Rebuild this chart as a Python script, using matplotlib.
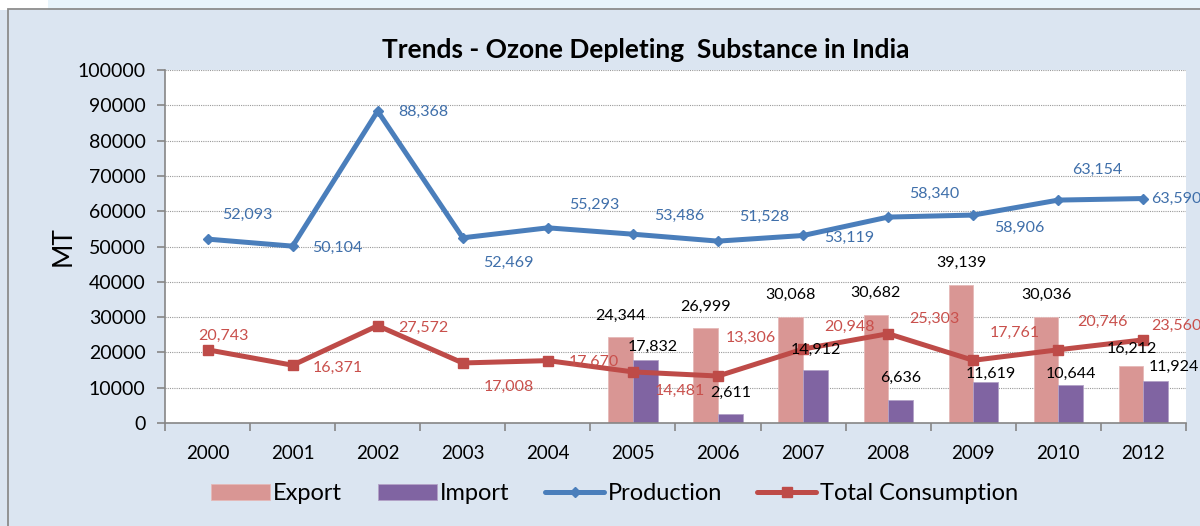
import matplotlib
import matplotlib.pyplot as plt
from matplotlib.patches import Rectangle

matplotlib.use("Agg")

plt.rcParams["font.family"] = ["Lato", "DejaVu Sans"]

# chart data
years = ["2000", "2001", "2002", "2003", "2004", "2005",
         "2006", "2007", "2008", "2009", "2010", "2012"]
production = [52093, 50104, 88368, 52469, 55293, 53486,
              51528, 53119, 58340, 58906, 63154, 63590]
consumption = [20743, 16371, 27572, 17008, 17670, 14481,
               13306, 20948, 25303, 17761, 20746, 23560]
# export / import only reported from 2005 onwards
bar_years = ["2005", "2006", "2007", "2008", "2009", "2010", "2012"]
export = [24344, 26999, 30068, 30682, 39139, 30036, 16212]
imports = [17832, 2611, 14912, 6636, 11619, 10644, 11924]

# label offsets in pixels (dx, dy) - Excel placed these by hand-ish
prod_off = [(40, 24), (45, -2), (46, -1), (46, -25), (46, 23), (46, 18),
            (46, 24), (46, -2), (46, 23), (46, -13), (39, 30), (8, 0)]
cons_off = [(16, 14), (45, -3), (46, -2), (46, -24), (46, -1), (47, -19),
            (33, 38), (46, 22), (46, 15), (41, 27), (44, 28), (8, 14)]
exp_off = [(0, 21), (0, 21), (0, 22), (0, 22), (0, 22), (0, 22), (1, 17)]
imp_off = [(7, 13), (0, 21), (0, 20), (0, 22), (5, 8), (0, 12), (18, 14)]

BG = "#DBE5F1"
BLUE = "#4A7EBB"
RED = "#BE4B48"
PINK = "#D99694"
PURPLE = "#8064A2"


def fmt(v):
    return f"{v:,}"


def create_plot():
    fig = plt.figure(figsize=(12, 5.26), dpi=100)
    fig.patch.set_facecolor(BG)

    # strip of the surrounding document at the very top
    fig.patches.append(Rectangle((0, 0.981), 1, 0.02, transform=fig.transFigure,
                                 facecolor="white", edgecolor="none", zorder=0))
    fig.patches.append(Rectangle((0.04, 0.981), 0.96, 0.02, transform=fig.transFigure,
                                 facecolor="#E8F4FB", edgecolor="none", zorder=0))
    fig.patches.append(Rectangle((0.0065, -0.01), 1.0, 0.992, transform=fig.transFigure,
                                 facecolor="none", edgecolor="#8C8C8C", lw=1.3, zorder=1))
    # tail of the paragraph text above the chart, cut off like in the source
    fig.text(0.083, 1.012, "2040.", fontsize=15, color="#222222", va="center")

    ax = fig.add_axes([0.1375, 0.1958, 0.8508, 0.6711])
    ax.set_facecolor("white")

    x = list(range(len(years)))
    bx = [years.index(y) for y in bar_years]
    w = 0.29

    ax.bar([i - w / 2 for i in bx], export, width=w, color=PINK,
           edgecolor="#E6B9B8", lw=0.6, label="Export", zorder=2)
    ax.bar([i + w / 2 for i in bx], imports, width=w, color=PURPLE,
           edgecolor="#B3A2C7", lw=0.6, label="Import", zorder=2)
    ax.plot(x, production, color=BLUE, lw=3.6, marker="D", ms=5.5,
            label="Production", zorder=3, solid_capstyle="round")
    ax.plot(x, consumption, color=RED, lw=3.6, marker="s", ms=7.5,
            label="Total Consumption", zorder=3, solid_capstyle="round")

    lab = dict(textcoords="offset pixels", ha="center", va="center",
               fontsize=11.5, zorder=5, annotation_clip=False)
    for i, v in enumerate(production):
        dx, dy = prod_off[i]
        ha = "left" if i == len(years) - 1 else "center"
        ax.annotate(fmt(v), (i, v), xytext=(dx, dy), color="#3F6FAA",
                    **{**lab, "ha": ha})
    for i, v in enumerate(consumption):
        dx, dy = cons_off[i]
        ha = "left" if i == len(years) - 1 else "center"
        ax.annotate(fmt(v), (i, v), xytext=(dx, dy), color="#C9504C",
                    **{**lab, "ha": ha})
    for j, i in enumerate(bx):
        ax.annotate(fmt(export[j]), (i - w / 2, export[j]), xytext=exp_off[j],
                    color="black", **lab)
        ax.annotate(fmt(imports[j]), (i + w / 2, imports[j]), xytext=imp_off[j],
                    color="black", **lab)

    ax.set_xlim(-0.5, len(years) - 0.5)
    ax.set_ylim(0, 100000)
    ax.set_yticks(range(0, 100001, 10000))
    ax.set_yticklabels([str(t) for t in range(0, 100001, 10000)])
    ax.set_xticks(x)
    ax.set_xticklabels(years)
    ax.set_xticks([i - 0.5 for i in range(len(years) + 1)], minor=True)
    ax.tick_params(axis="x", which="major", length=0, pad=16, labelsize=13.5)
    ax.tick_params(axis="x", which="minor", length=6, color="#868686", width=1.2)
    ax.tick_params(axis="y", length=6, color="#868686", width=1.2, labelsize=14, pad=8)

    ax.grid(axis="y", color="#9A9A9A", lw=0.8, linestyle=(0, (1, 1)), zorder=0)
    ax.set_axisbelow(True)
    for s in ["top", "right"]:
        ax.spines[s].set_visible(False)
    for s in ["left", "bottom"]:
        ax.spines[s].set_color("#868686")
        ax.spines[s].set_linewidth(1.2)

    ax.set_ylabel("MT", fontsize=19, labelpad=1)
    ax.set_title("Trends - Ozone Depleting  Substance in India", fontsize=19,
                 fontweight="bold", pad=9, x=0.471)

    handles, labels = ax.get_legend_handles_labels()
    order = [labels.index(n) for n in ["Export", "Import", "Production", "Total Consumption"]]
    fig.legend([handles[k] for k in order], [labels[k] for k in order],
               loc="center", bbox_to_anchor=(0.512, 0.061),
               ncol=4, frameon=False, fontsize=17, handlelength=2.5,
               handletextpad=0.15, columnspacing=1.5)

    fig.savefig("out.png", dpi=100, facecolor=BG)


def main():
    create_plot()


if __name__ == "__main__":
    main()
